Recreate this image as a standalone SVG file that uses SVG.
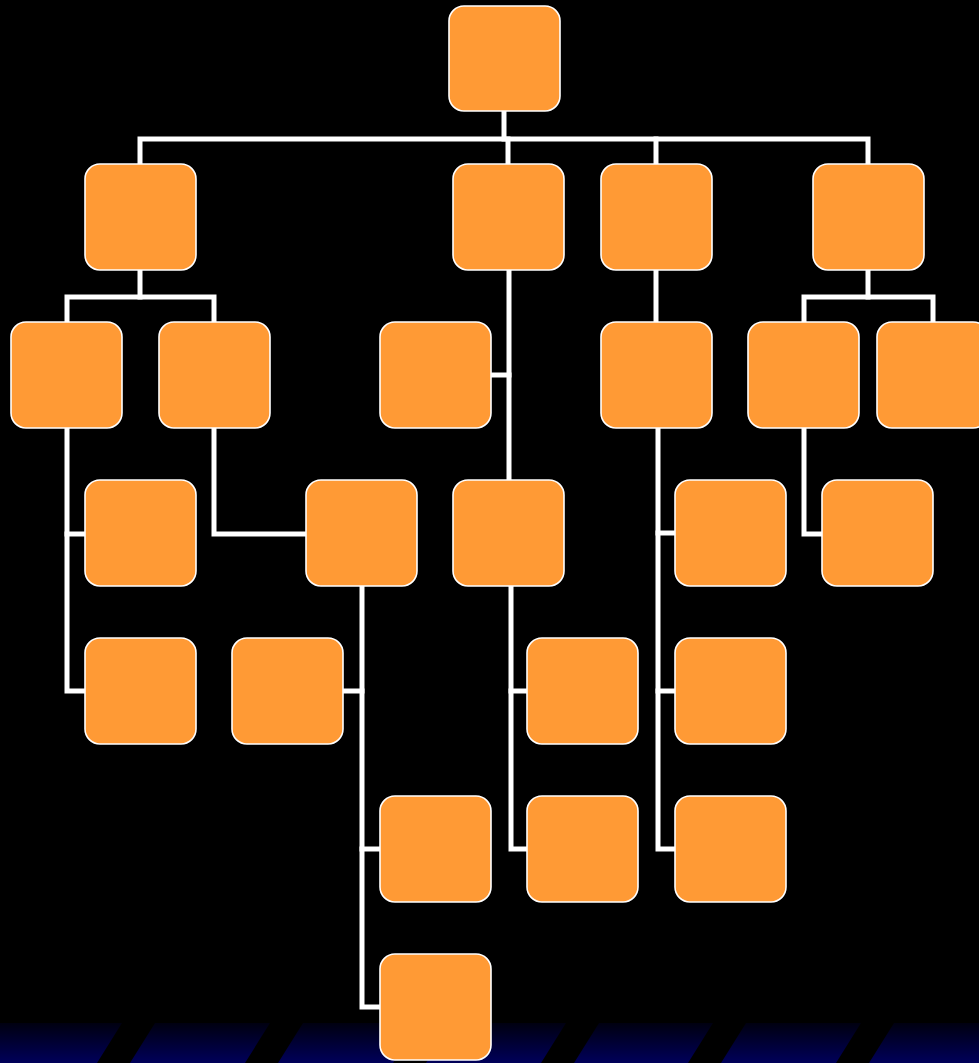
<svg xmlns="http://www.w3.org/2000/svg" width="979" height="1063" viewBox="0 0 979 1063">
  <defs>
    <linearGradient id="band" x1="0" y1="0" x2="0" y2="1">
      <stop offset="0" stop-color="#000010"/>
      <stop offset="1" stop-color="#00005a"/>
    </linearGradient>
    <style>
      .node { fill: #FF9A35; stroke: #FFFFFF; stroke-width: 1.6; }
      .conn { fill: none; stroke: #FFFFFF; stroke-width: 5; stroke-linejoin: miter; stroke-linecap: square; }
      .gap { fill: #000000; }
    </style>
  </defs>
  <rect x="0" y="0" width="979" height="1063" fill="#000000"/>
  <g id="band-decor">
    <rect x="0" y="1023" width="979" height="40" fill="url(#band)"/>
    <polygon class="gap" points="122,1023 155,1023 130,1063 97,1063"/>
    <polygon class="gap" points="270,1023 303,1023 278,1063 245,1063"/>
    <polygon class="gap" points="418,1023 451,1023 426,1063 393,1063"/>
    <polygon class="gap" points="566,1023 599,1023 574,1063 541,1063"/>
    <polygon class="gap" points="713,1023 746,1023 721,1063 688,1063"/>
    <polygon class="gap" points="861,1023 894,1023 869,1063 836,1063"/>
  </g>
  <g id="connectors" class="conn">
    <path d="M504 111 V139"/>
    <path d="M140 164 V139 H868 V164"/>
    <path d="M508 139 V164"/>
    <path d="M656 139 V164"/>
    <path d="M140 270 V297"/>
    <path d="M67 322 V297 H214 V322"/>
    <path d="M67 428 V691 H85"/>
    <path d="M67 534 H85"/>
    <path d="M214 428 V534 H306"/>
    <path d="M362 586 V1007 H380"/>
    <path d="M343 691 H362"/>
    <path d="M362 849 H380"/>
    <path d="M509 270 V480"/>
    <path d="M491 375 H509"/>
    <path d="M511 586 V849 H527"/>
    <path d="M511 691 H527"/>
    <path d="M656 270 V322"/>
    <path d="M658 428 V849 H675"/>
    <path d="M658 533 H675"/>
    <path d="M658 691 H675"/>
    <path d="M868 270 V297"/>
    <path d="M804 322 V297 H933 V322"/>
    <path d="M804 428 V534 H822"/>
  </g>
  <g id="n-root"><rect class="node" x="449" y="6" width="111" height="105" rx="15"/></g>
  <g id="n-a"><rect class="node" x="85" y="164" width="111" height="106" rx="15"/></g>
  <g id="n-b"><rect class="node" x="453" y="164" width="111" height="106" rx="15"/></g>
  <g id="n-c"><rect class="node" x="601" y="164" width="111" height="106" rx="15"/></g>
  <g id="n-d"><rect class="node" x="813" y="164" width="111" height="106" rx="15"/></g>
  <g id="n-a1"><rect class="node" x="11" y="322" width="111" height="106" rx="15"/></g>
  <g id="n-a2"><rect class="node" x="159" y="322" width="111" height="106" rx="15"/></g>
  <g id="n-b1"><rect class="node" x="380" y="322" width="111" height="106" rx="15"/></g>
  <g id="n-c1"><rect class="node" x="601" y="322" width="111" height="106" rx="15"/></g>
  <g id="n-d1"><rect class="node" x="748" y="322" width="111" height="106" rx="15"/></g>
  <g id="n-d2"><rect class="node" x="877" y="322" width="111" height="106" rx="15"/></g>
  <g id="n-a1a"><rect class="node" x="85" y="480" width="111" height="106" rx="15"/></g>
  <g id="n-a2a"><rect class="node" x="306" y="480" width="111" height="106" rx="15"/></g>
  <g id="n-b2"><rect class="node" x="453" y="480" width="111" height="106" rx="15"/></g>
  <g id="n-c1a"><rect class="node" x="675" y="480" width="111" height="106" rx="15"/></g>
  <g id="n-d1a"><rect class="node" x="822" y="480" width="111" height="106" rx="15"/></g>
  <g id="n-a1b"><rect class="node" x="85" y="638" width="111" height="106" rx="15"/></g>
  <g id="n-a2a1"><rect class="node" x="232" y="638" width="111" height="106" rx="15"/></g>
  <g id="n-b2a"><rect class="node" x="527" y="638" width="111" height="106" rx="15"/></g>
  <g id="n-c1b"><rect class="node" x="675" y="638" width="111" height="106" rx="15"/></g>
  <g id="n-a2a2"><rect class="node" x="380" y="796" width="111" height="106" rx="15"/></g>
  <g id="n-b2b"><rect class="node" x="527" y="796" width="111" height="106" rx="15"/></g>
  <g id="n-c1c"><rect class="node" x="675" y="796" width="111" height="106" rx="15"/></g>
  <g id="n-a2a3"><rect class="node" x="380" y="954" width="111" height="106" rx="15"/></g>
</svg>
